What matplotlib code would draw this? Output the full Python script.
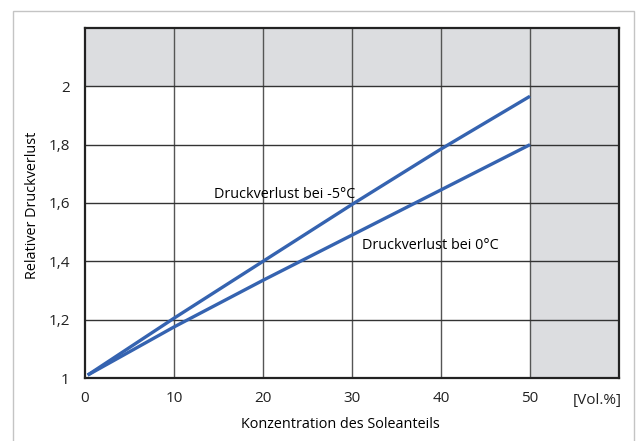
import matplotlib
matplotlib.use("Agg")
import matplotlib.pyplot as plt
from matplotlib.patches import Rectangle

plt.rcParams["font.family"] = ["Open Sans", "DejaVu Sans"]

# Konzentration [Vol.%] und relativer Druckverlust
konz = [0.3, 10, 20, 30, 40, 50]
druck_m5 = [1.01, 1.205, 1.40, 1.595, 1.785, 1.966]
druck_0 = [1.01, 1.175, 1.335, 1.49, 1.645, 1.80]

x_ticks = [0, 10, 20, 30, 40, 50]
y_ticks = [1.0, 1.2, 1.4, 1.6, 1.8, 2.0]
y_labels = ["1", "1,2", "1,4", "1,6", "1,8", "2"]

blue = "#3563b0"
grey = "#dcdde0"

fig = plt.figure(figsize=(6.37, 4.41), dpi=100)
ax = fig.add_axes([85 / 637, 1 - 378 / 441, 534 / 637, 350 / 441])

# Rahmen um die Grafik
fig.patches.append(Rectangle((13 / 637, -0.05), 621 / 637, 1 - 11 / 441 + 0.05,
                             transform=fig.transFigure, fill=False,
                             edgecolor="#c4c4c4", linewidth=1.0))

ax.set_xlim(0, 60)
ax.set_ylim(1, 2.2)
ax.axhspan(2.0, 2.2, color=grey, zorder=0, lw=0)
ax.axvspan(50, 60, color=grey, zorder=0, lw=0)

for x in x_ticks[1:]:
    ax.axvline(x, color="#555555", linewidth=1.0, zorder=1)
for y in y_ticks[1:]:
    ax.axhline(y, color="#333333", linewidth=1.0, zorder=1)

ax.plot(konz, druck_m5, color=blue, linewidth=2.4, zorder=3, solid_capstyle="butt")
ax.plot(konz, druck_0, color=blue, linewidth=2.4, zorder=3, solid_capstyle="butt")

ax.text(14.5, 1.63, "Druckverlust bei -5°C", fontsize=10.4, va="center", ha="left", zorder=4)
ax.text(31.1, 1.455, "Druckverlust bei 0°C", fontsize=10.4, va="center", ha="left", zorder=4)

ax.set_xticks(x_ticks)
ax.set_xticklabels([str(v) for v in x_ticks])
ax.set_yticks(y_ticks)
ax.set_yticklabels(y_labels)
ax.tick_params(length=0, labelsize=11, colors="#222222")
ax.tick_params(axis="x", pad=9)
ax.tick_params(axis="y", pad=11)
ax.text(57.6, -0.065, "[Vol.%]", transform=ax.get_xaxis_transform(),
        ha="center", va="center", fontsize=11, color="#222222")

for s in ax.spines.values():
    s.set_color("#222222")
    s.set_linewidth(1.6)

fig.text(340 / 637, 1 - 425 / 441, "Konzentration des Soleanteils",
         ha="center", va="center", fontsize=10.4)
fig.text(33 / 637, 1 - 205 / 441, "Relativer Druckverlust", rotation=90,
         ha="center", va="center", fontsize=10.4)

fig.savefig("out.png", dpi=100)
